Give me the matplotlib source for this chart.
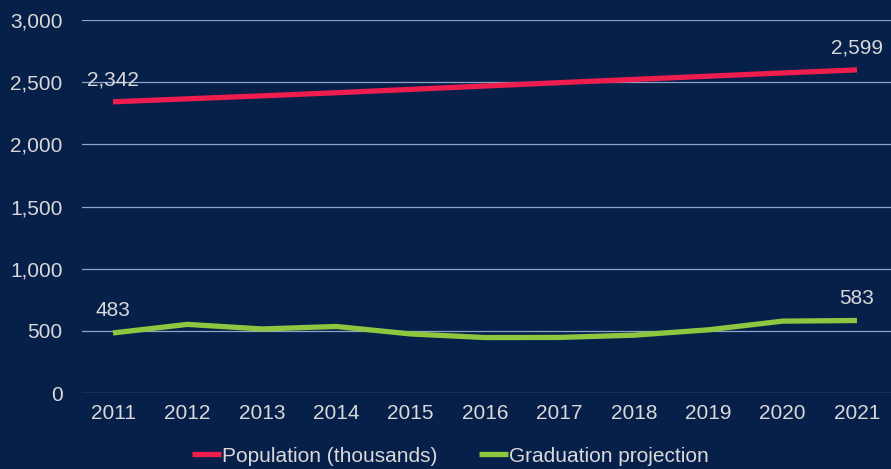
import matplotlib
matplotlib.use('Agg')
import matplotlib.pyplot as plt
from matplotlib.ticker import FuncFormatter

years = [2011, 2012, 2013, 2014, 2015, 2016, 2017, 2018, 2019, 2020, 2021]
population = [2342, 2366, 2390, 2415, 2442, 2469, 2496, 2522, 2548, 2574, 2599]
graduation = [483, 552, 515, 535, 475, 446, 447, 465, 508, 578, 583]
series_names = ['Population (thousands)', 'Graduation projection']

bg = '#06204A'
txt = '#D9D9D9'
red = '#EE1D4E'
green = '#8DC63F'

plt.rcParams['font.family'] = ['Liberation Sans', 'DejaVu Sans']

fig = plt.figure(figsize=(8.91, 4.69), dpi=100, facecolor=bg)
ax = fig.add_axes([82 / 891, 1 - 393 / 469, 1 - 82 / 891, (393 - 20) / 469])
ax.set_facecolor(bg)

ax.plot(years, population, color=red, lw=3.8, solid_capstyle='butt', label=series_names[0], zorder=3)
ax.plot(years, graduation, color=green, lw=3.8, solid_capstyle='butt', label=series_names[1], zorder=3)

# data labels at the ends only
for s in (population, graduation):
    for i in (0, -1):
        ax.annotate(f'{s[i]:,}', (years[i], s[i]), xytext=(0, 9), textcoords='offset points',
                    ha='center', va='bottom', color=txt, fontsize=15)

ax.set_ylim(0, 3000)
ax.set_yticks(range(0, 3001, 500))
ax.yaxis.set_major_formatter(FuncFormatter(lambda v, p: f'{int(v):,}'))
ax.set_xlim(2011 - 31 / 74.4, 2021 + 34 / 74.4)
ax.set_xticks(years)
ax.grid(axis='y', color='#8FA3C6', lw=0.9)
ax.set_axisbelow(True)
for sp in ax.spines.values():
    sp.set_visible(False)
ax.tick_params(length=0, colors=txt, labelsize=15)
ax.tick_params(axis='y', pad=14)
ax.tick_params(axis='x', pad=8)

leg = ax.legend(loc='lower center', bbox_to_anchor=(0.5 - 36 / 809, -0.245), ncol=2, frameon=False,
                fontsize=15, handlelength=1.4, handletextpad=0.05, columnspacing=2.0)
for t in leg.get_texts():
    t.set_color(txt)

fig.savefig('out.png', dpi=100, facecolor=bg)
